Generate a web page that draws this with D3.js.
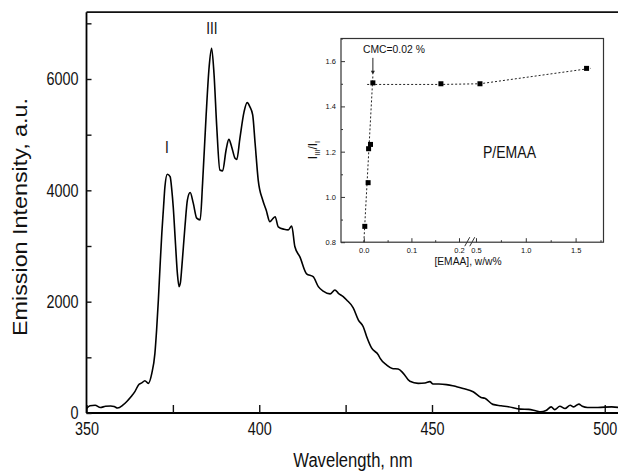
<!DOCTYPE html>
<html>
<head>
<meta charset="utf-8">
<script src="https://cdn.jsdelivr.net/npm/d3@7"></script>
<style>
  body { margin: 0; background: #fff; }
  svg { display: block; }
  text { font-family: "Liberation Sans", Arial, Helvetica, sans-serif; fill: #111; }
</style>
</head>
<body>
<div id="chart"></div>
<script>
// emission spectrum (main plot)
var wavelength = [350.0, 351.0, 352.5, 354.0, 355.5, 357.0, 358.0, 359.0, 360.5, 361.6, 363.0, 364.0, 365.0, 366.0, 366.9,
  367.9, 368.9, 369.8, 370.3, 370.8, 371.3, 371.8, 372.3, 372.7, 373.4, 374.2, 374.7, 375.1, 375.7, 376.3, 376.8, 377.2,
  377.6, 378.5, 379.2, 380.0, 380.9, 381.9, 382.9, 383.6, 384.6, 385.5, 386.2, 386.9, 387.7, 388.6, 389.4, 390.4, 391.2,
  392.0, 393.0, 393.5, 394.4, 395.6, 396.5, 397.3, 398.1, 398.8, 399.7, 401.0, 402.0, 403.1, 403.8, 404.6, 405.5, 407.2,
  408.4, 409.4, 410.3, 411.8, 413.7, 415.6, 417.1, 418.5, 420.5, 421.9, 422.9, 424.3, 425.3, 427.2, 428.7, 430.1, 431.1,
  432.5, 434.5, 435.0, 436.9, 438.5, 440.2, 441.7, 443.6, 446.0, 448.0, 449.4, 450.3, 452.0, 454.2, 456.0, 457.1, 459.0,
  461.9, 464.2, 465.3, 467.6, 470.0, 472.1, 475.6, 478.0, 480.0, 481.5, 483.0, 484.5, 485.5, 487.0, 488.5, 490.0, 491.0,
  492.5, 493.5, 495.0, 498.0, 502.0, 504.0];
var intensity = [80, 130, 140, 100, 120, 125, 115, 90, 140, 203, 300, 383, 500, 540, 580,
  533, 713, 1072, 1500, 2030, 2650, 3230, 3700, 4065, 4290, 4245, 4000, 3705, 3100, 2510, 2270, 2350,
  2630, 3350, 3825, 3960, 3770, 3500, 3470, 4130, 5320, 6220, 6550, 6100, 5140, 4365, 4350, 4725, 4915,
  4785, 4575, 4555, 4935, 5410, 5575, 5500, 5355, 4845, 4185, 3825, 3645, 3435, 3480, 3525, 3345, 3300,
  3290, 3360, 2990, 2800, 2500, 2450, 2270, 2190, 2140, 2210, 2150, 2090, 2030, 1890, 1670, 1550, 1370,
  1170, 1040, 980, 860, 800, 790, 713, 570, 533, 540, 563, 520, 520, 510, 490, 473, 440,
  383, 280, 264, 155, 130, 111, 70, 65, 40, 20, 45, 110, 60, 120, 80, 140, 110,
  160, 120, 100, 100, 110, 100];
var xTicks = [350, 375, 400, 425, 450, 475, 500];
var xLabels = [350, 400, 450, 500];
var yTicks = [0, 1000, 2000, 3000, 4000, 5000, 6000, 7000];
var yLabels = [0, 2000, 4000, 6000];

// inset: I_III/I_I vs [EMAA]
var emaa = [0.002, 0.009, 0.010, 0.014, 0.019, 0.162, 0.54, 1.61];
var ratio = [0.87, 1.063, 1.213, 1.232, 1.504, 1.50, 1.50, 1.568];
var fitSteepX = [0.0, 0.019];
var fitSteepY = [0.80, 1.534];
var fitFlatX = [0.007, 0.162, 0.54, 1.65];
var fitFlatY = [1.497, 1.497, 1.50, 1.568];
var insetXMajor = [0.0, 0.1, 0.2, 0.5, 1.0, 1.5];
var insetXMinor = [0.05, 0.15, 0.75, 1.25, 1.75];
var insetYMajor = [0.8, 1.0, 1.2, 1.4, 1.6];
var insetYMinor = [0.9, 1.1, 1.3, 1.5, 1.7];

var W = 618, H = 472;
var svg = d3.select("#chart").append("svg")
    .attr("width", W)
    .attr("height", H);
svg.append("rect").attr("width", W).attr("height", H).attr("fill", "#fff");

// squeeze text horizontally, the original uses a narrow face
function narrow(sel, f) {
    sel.each(function () {
        var w = this.getComputedTextLength();
        if (w > 0) d3.select(this).attr("textLength", w * f).attr("lengthAdjust", "spacingAndGlyphs");
    });
}

// main scales
var x = d3.scaleLinear().domain([350, 510]).range([86.5, 86.5 + 160 * 3.455]);
var y = d3.scaleLinear().domain([0, 7200]).range([413, 12.2]);

// frame top line
svg.append("line")
    .attr("x1", x(350)).attr("x2", W + 5)
    .attr("y1", y(7200)).attr("y2", y(7200))
    .attr("stroke", "#111").attr("stroke-width", 1.8);

var gx = svg.append("g")
    .attr("transform", "translate(0," + y(0) + ")")
    .call(d3.axisBottom(x).tickValues(xTicks).tickSize(-8).tickPadding(9)
        .tickFormat(function (d) { return xLabels.indexOf(d) >= 0 ? d : ""; }));
gx.select(".domain").attr("d", "M" + x(350) + ",0H" + (W + 5)).attr("stroke-width", 1.8);

var gy = svg.append("g")
    .attr("transform", "translate(" + x(350) + ",0)")
    .call(d3.axisLeft(y).tickValues(yTicks).tickSize(-5).tickPadding(8)
        .tickFormat(function (d) { return yLabels.indexOf(d) >= 0 ? d : ""; }));
gy.select(".domain").attr("d", "M0," + y(0) + "V" + y(7200)).attr("stroke-width", 1.8);

svg.selectAll(".tick line").attr("stroke", "#111").attr("stroke-width", 1.4);
svg.selectAll(".tick text").attr("font-size", 18).attr("fill", "#111")
    .style("font-family", '"Liberation Sans", Arial, sans-serif');
narrow(svg.selectAll(".tick text"), 0.8);

// spectrum
var spectrum = wavelength.map(function (d, i) { return [d, intensity[i]]; });
svg.append("path")
    .datum(spectrum)
    .attr("fill", "none")
    .attr("stroke", "#000")
    .attr("stroke-width", 1.6)
    .attr("stroke-linejoin", "round")
    .attr("d", d3.line()
        .x(function (d) { return x(d[0]); })
        .y(function (d) { return y(d[1]); })
        .curve(d3.curveMonotoneX));

// peak labels
var pk1 = svg.append("text").attr("x", x(373.3)).attr("y", y(4670)).attr("text-anchor", "middle")
    .attr("font-size", 17).text("I");
var pk3 = svg.append("text").attr("x", x(386.3)).attr("y", y(6810)).attr("text-anchor", "middle")
    .attr("font-size", 17).text("III");
narrow(pk1, 0.8);
narrow(pk3, 0.8);

// axis titles
var xt = svg.append("text").attr("x", 353).attr("y", 467).attr("text-anchor", "middle")
    .attr("font-size", 20).text("Wavelength, nm");
narrow(xt, 0.83);
var yt = svg.append("text")
    .attr("transform", "translate(27,217) rotate(-90)")
    .attr("text-anchor", "middle").attr("font-size", 21)
    .text("Emission Intensity, a.u.");
yt.attr("textLength", 238).attr("lengthAdjust", "spacingAndGlyphs");

// ---- inset ----
var ix = d3.scaleLinear().domain([-0.048, 0.22, 0.45, 1.78]).range([341, 468.5, 471, 603.5]);
var iy = d3.scaleLinear().domain([0.8, 1.7]).range([242.2, 38.5]);

var inset = svg.append("g");
inset.append("rect")
    .attr("x", ix(-0.048)).attr("y", iy(1.7))
    .attr("width", ix(1.78) - ix(-0.048)).attr("height", iy(0.8) - iy(1.7))
    .attr("fill", "#fff").attr("stroke", "#333").attr("stroke-width", 1.2);

function insetAxisX(vals, size, labels) {
    var g = inset.append("g").attr("transform", "translate(0," + iy(0.8) + ")")
        .call(d3.axisBottom(ix).tickValues(vals).tickSize(-size).tickPadding(5)
            .tickFormat(labels ? d3.format(".1f") : function () { return ""; }));
    g.select(".domain").remove();
    g.selectAll("line").attr("stroke", "#333");
    g.selectAll("text").attr("font-size", 7.5).attr("fill", "#222");
}
function insetAxisY(vals, size, labels) {
    var g = inset.append("g").attr("transform", "translate(" + ix(-0.048) + ",0)")
        .call(d3.axisLeft(iy).tickValues(vals).tickSize(-size).tickPadding(5)
            .tickFormat(labels ? d3.format(".1f") : function () { return ""; }));
    g.select(".domain").remove();
    g.selectAll("line").attr("stroke", "#333");
    g.selectAll("text").attr("font-size", 7.5).attr("fill", "#222");
}
insetAxisX(insetXMajor, 4, true);
insetAxisX(insetXMinor, 2, false);
insetAxisY(insetYMajor, 4, true);
insetAxisY(insetYMinor, 2, false);

// axis break marks
var bx = (ix(0.22) + ix(0.45)) / 2;
[-2.5, 2.5].forEach(function (o) {
    inset.append("line")
        .attr("x1", bx + o - 2.5).attr("y1", iy(0.8) + 4)
        .attr("x2", bx + o + 2.5).attr("y2", iy(0.8) - 5)
        .attr("stroke", "#333").attr("stroke-width", 1);
});

// dashed fits
var dashLine = d3.line().x(function (d) { return ix(d[0]); }).y(function (d) { return iy(d[1]); });
inset.append("path")
    .datum(fitSteepX.map(function (d, i) { return [d, fitSteepY[i]]; }))
    .attr("d", dashLine).attr("fill", "none").attr("stroke", "#222")
    .attr("stroke-width", 1).attr("stroke-dasharray", "2,2");
inset.append("path")
    .datum(fitFlatX.map(function (d, i) { return [d, fitFlatY[i]]; }))
    .attr("d", dashLine).attr("fill", "none").attr("stroke", "#222")
    .attr("stroke-width", 1).attr("stroke-dasharray", "2,2");

// points
inset.selectAll("rect.pt")
    .data(emaa.map(function (d, i) { return [d, ratio[i]]; }))
    .enter().append("rect")
    .attr("class", "pt")
    .attr("x", function (d) { return ix(d[0]) - 2.5; })
    .attr("y", function (d) { return iy(d[1]) - 2.5; })
    .attr("width", 5).attr("height", 5)
    .attr("fill", "#000");

// CMC arrow
var ax = ix(0.019), atip = iy(1.504) - 8;
inset.append("line").attr("x1", ax).attr("x2", ax).attr("y1", atip - 17).attr("y2", atip - 3)
    .attr("stroke", "#222").attr("stroke-width", 1);
inset.append("path")
    .attr("d", "M" + (ax - 2) + "," + (atip - 4) + "L" + (ax + 2) + "," + (atip - 4) + "L" + ax + "," + atip + "Z")
    .attr("fill", "#222");
var cmc = inset.append("text").attr("x", 363).attr("y", 52.5).attr("font-size", 11.5).text("CMC=0.02 %");
narrow(cmc, 0.9);

var pe = inset.append("text").attr("x", 483).attr("y", 157.5).attr("font-size", 16.5).text("P/EMAA");
narrow(pe, 0.85);

// inset axis titles
var ixt = inset.append("text").attr("x", 468).attr("y", 265).attr("text-anchor", "middle")
    .attr("font-size", 11.5).text("[EMAA], w/w%");
narrow(ixt, 0.89);
var yl = inset.append("text")
    .attr("transform", "translate(317,150) rotate(-90)")
    .attr("text-anchor", "middle").attr("font-size", 12);
yl.append("tspan").text("I");
yl.append("tspan").attr("font-size", 7.5).attr("dy", 3).text("III");
yl.append("tspan").attr("dy", -3).text("/I");
yl.append("tspan").attr("font-size", 7.5).attr("dy", 3).text("I");
</script>
</body>
</html>
